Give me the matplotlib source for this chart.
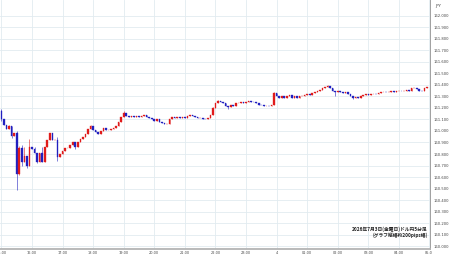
import numpy as np
import matplotlib
matplotlib.use("Agg")
import matplotlib.pyplot as plt
from matplotlib.transforms import Bbox, TransformedBbox

# ドル円 5分足 (15:00 - 04:55), one row per hour
close = [
    161.10, 161.05, 161.02, 161.04, 160.96, 160.98, 160.63, 160.85, 160.73, 160.78, 160.70, 160.86,  # 15
    160.84, 160.81, 160.73, 160.81, 160.73, 160.86, 160.92, 160.98, 160.92, 160.92, 160.77, 160.80,  # 16
    160.83, 160.85, 160.85, 160.88, 160.90, 160.86, 160.90, 160.93, 160.95, 160.97, 161.02, 161.04,  # 17
    161.01, 160.99, 160.97, 161.00, 161.03, 161.01, 161.01, 161.02, 161.03, 161.04, 161.08, 161.12,  # 18
    161.16, 161.13, 161.12, 161.13, 161.12, 161.13, 161.12, 161.13, 161.135, 161.12, 161.11, 161.10,  # 19
    161.09, 161.10, 161.08, 161.07, 161.06, 161.06, 161.10, 161.12, 161.11, 161.12, 161.11, 161.12,  # 20
    161.11, 161.13, 161.14, 161.13, 161.12, 161.11, 161.115, 161.105, 161.10, 161.11, 161.14, 161.20,  # 21
    161.24, 161.26, 161.25, 161.24, 161.22, 161.21, 161.23, 161.22, 161.24, 161.245, 161.25, 161.245,  # 22
    161.255, 161.26, 161.255, 161.25, 161.24, 161.23, 161.225, 161.215, 161.22, 161.215, 161.225, 161.33,  # 23
    161.30, 161.29, 161.30, 161.29, 161.30, 161.31, 161.29, 161.30, 161.29, 161.30, 161.305, 161.31,  # 00
    161.32, 161.315, 161.33, 161.34, 161.35, 161.36, 161.37, 161.385, 161.39, 161.37, 161.35, 161.34,  # 01
    161.35, 161.34, 161.33, 161.335, 161.325, 161.30, 161.29, 161.295, 161.285, 161.30, 161.31, 161.32,  # 02
    161.315, 161.32, 161.325, 161.32, 161.33, 161.335, 161.34, 161.335, 161.34, 161.345, 161.34, 161.345,  # 03
    161.35, 161.345, 161.35, 161.355, 161.35, 161.37, 161.375, 161.365, 161.35, 161.345, 161.37, 161.38,  # 04
]
first_open = 161.17

# wick extremes for the candles where they are visible
wick_high = {0: 161.19, 3: 161.05, 6: 161.00, 7: 160.87, 8: 160.88, 9: 160.86, 11: 160.93,
             13: 160.86, 16: 160.86, 22: 160.95, 35: 161.05, 48: 161.17, 83: 161.21, 85: 161.27,
             107: 161.34, 128: 161.40}
wick_low = {0: 161.09, 4: 160.94, 6: 160.49, 7: 160.62, 8: 160.70, 10: 160.68, 14: 160.72,
            22: 160.74, 29: 160.84, 89: 161.19, 131: 161.30, 138: 161.28}

hour_labels = ["15:00", "16:00", "17:00", "18:00", "19:00", "20:00", "21:00", "22:00",
               "23:00", "4", "01:00", "02:00", "03:00", "04:00", "05:00"]
price_ticks = np.round(np.arange(160.0, 162.01, 0.1), 1)

opens = [first_open] + close[:-1]
minutes = np.arange(len(close)) * 5

up_col = "#e01b1b"
down_col = "#2020c0"

fig = plt.figure(figsize=(4.5, 2.58), dpi=100)
ax = fig.add_axes([0, 9 / 258, 430 / 450, 249 / 258])

for i, (o, c) in enumerate(zip(opens, close)):
    col = up_col if c >= o else down_col
    hi = wick_high.get(i, max(o, c))
    lo = wick_low.get(i, min(o, c))
    if hi > lo:
        ax.vlines(minutes[i], lo, hi, color=col, linewidth=0.4, zorder=2)
    ax.bar(minutes[i], abs(c - o), bottom=min(o, c), width=3.2, color=col,
           edgecolor=col, linewidth=0.25, zorder=3)

ax.set_xlim(-2.75, 841)
ax.set_ylim(159.974, 162.139)

ax.set_xticks(np.arange(len(hour_labels)) * 60)
ax.set_xticklabels(hour_labels)
ax.set_yticks(price_ticks)
ax.set_yticklabels([f"{p:.3f}" for p in price_ticks])
ax.yaxis.tick_right()
ax.tick_params(axis="x", length=0, pad=1.6, labelsize=2.5, labelcolor="#444444")
ax.tick_params(axis="y", length=0, pad=2.5, labelsize=2.7, labelcolor="#444444")

ax.grid(True, color="#e2ebf0", linewidth=0.6, zorder=0)
ax.set_axisbelow(True)

for s in ["left", "top"]:
    ax.spines[s].set_visible(False)
ax.spines["bottom"].set_color("#b4b4b4")
ax.spines["bottom"].set_linewidth(1.3)
ax.spines["right"].set_color("#a0a0a0")
ax.spines["right"].set_linewidth(0.7)

# last time label is cut at the price axis
clip = TransformedBbox(Bbox([[0, 0], [432 / 450, 1]]), fig.transFigure)
for t in ax.xaxis.get_major_ticks():
    t.label1.set_clip_box(clip)
    t.label1.set_clip_on(True)

fig.text(435 / 450, 1 - 6 / 258, "JPY", fontsize=3.0, color="#444444", va="center", ha="left")

ax.text(0.995, 0.045, "2026年7月3日(金曜日)ドル円5分足\n(グラフ縦幅約200pips幅)",
        transform=ax.transAxes, ha="right", va="bottom", fontsize=3.4, linespacing=1.0,
        family=["Noto Sans CJK JP", "DejaVu Sans"], color="#222222", fontweight="bold", zorder=5)

fig.savefig("out.png", dpi=100)
